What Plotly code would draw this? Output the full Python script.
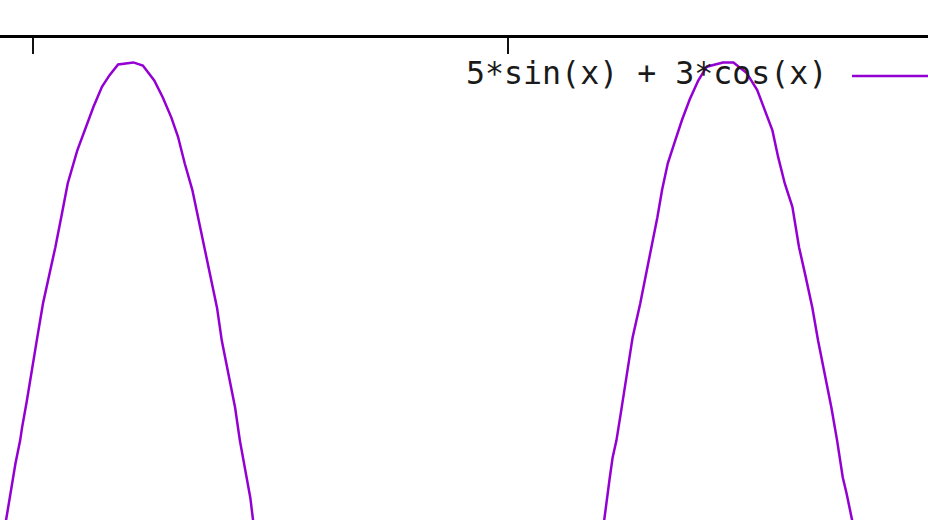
import plotly.graph_objects as go

LINE_COLOR = '#9400d3'
LABEL = '5*sin(x) + 3*cos(x)'

# first arch
arch1_x = [-0.28, -0.25, -0.21, -0.18, -0.13, -0.11, -0.06, -0.01, 0.05, 0.11,
           0.18, 0.24, 0.31, 0.37, 0.47, 0.55, 0.64, 0.73, 0.81, 0.90,
           1.06, 1.16, 1.28, 1.37, 1.46, 1.53, 1.60, 1.68, 1.74, 1.80,
           1.87, 1.94, 1.99, 2.06, 2.13, 2.18, 2.24, 2.29, 2.32]
arch1_y = [1.45, 1.61, 1.80, 1.99, 2.21, 2.33, 2.58, 2.87, 3.18, 3.50,
           3.78, 4.03, 4.35, 4.63, 4.94, 5.13, 5.35, 5.54, 5.65, 5.75,
           5.77, 5.74, 5.60, 5.44, 5.25, 5.07, 4.82, 4.57, 4.31, 4.07,
           3.78, 3.46, 3.15, 2.84, 2.52, 2.21, 1.92, 1.67, 1.45]

# second arch
arch2_x = [6.01, 6.04, 6.07, 6.10, 6.14, 6.19, 6.25, 6.31, 6.39, 6.46,
           6.51, 6.57, 6.62, 6.68, 6.76, 6.83, 6.91, 7.00, 7.09, 7.26,
           7.37, 7.51, 7.62, 7.70, 7.78, 7.84, 7.91, 7.99, 8.06, 8.13,
           8.20, 8.26, 8.33, 8.40, 8.46, 8.49, 8.52, 8.56, 8.62]
arch2_y = [1.45, 1.67, 1.86, 2.05, 2.21, 2.49, 2.84, 3.18, 3.50, 3.81,
           4.03, 4.31, 4.57, 4.82, 5.04, 5.23, 5.42, 5.60, 5.73, 5.77,
           5.77, 5.67, 5.51, 5.32, 5.13, 4.88, 4.63, 4.41, 4.03, 3.75,
           3.46, 3.15, 2.84, 2.52, 2.21, 2.05, 1.86, 1.71, 1.45]

x_ticks = [0, 5]
x_range = [-0.342, 9.416]
y_range = [1.46, 6.0]

fig = go.Figure()

fig.add_trace(go.Scatter(
    x=arch1_x + [None] + arch2_x,
    y=arch1_y + [None] + arch2_y,
    mode='lines',
    line=dict(color=LINE_COLOR, width=2.5),
    connectgaps=False,
    name=LABEL,
    showlegend=False,
))

# gnuplot-style key: text on the left, line sample on the right
fig.add_annotation(
    text=LABEL, xref='paper', yref='paper',
    x=829 / 928, y=(520 - 73) / 482,
    xanchor='right', yanchor='middle', showarrow=False,
    font=dict(family='DejaVu Sans Mono', size=31.6, color='#1a1a1a'),
)
fig.add_shape(
    type='line', xref='paper', yref='paper',
    x0=852 / 928, x1=1.02, y0=(520 - 76) / 482, y1=(520 - 76) / 482,
    line=dict(color=LINE_COLOR, width=2.5),
)

fig.update_layout(
    width=928, height=520,
    margin=dict(l=0, r=0, t=38, b=0, pad=0),
    paper_bgcolor='white',
    plot_bgcolor='white',
    xaxis=dict(
        range=x_range, side='top', showline=True, linecolor='black', linewidth=2.5,
        ticks='inside', tickvals=x_ticks, ticklen=16, tickwidth=2, tickcolor='#111',
        showticklabels=False, showgrid=False, zeroline=False,
    ),
    yaxis=dict(
        range=y_range, showline=False, showgrid=False, zeroline=False,
        showticklabels=False, ticks='',
    ),
)

# drop the page's default body margin so the figure sits at the window corner
fig.write_html("out.html",
               config={'displayModeBar': False},
               post_script="document.body.style.margin='0';"
                           "document.body.style.overflow='hidden';")
